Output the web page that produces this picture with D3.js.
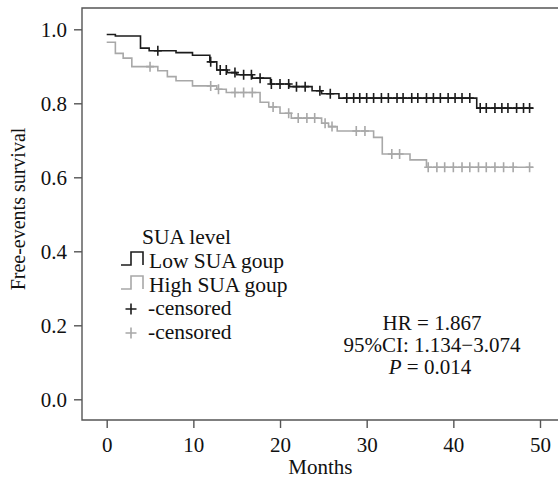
<!DOCTYPE html>
<html>
<head>
<meta charset="utf-8">
<script src="https://cdn.jsdelivr.net/npm/d3@7"></script>
<style>
html,body{margin:0;padding:0;background:#fff;}
svg{display:block;}
text{font-family:"Liberation Serif","Times New Roman",serif;fill:#111;}
</style>
</head>
<body>
<svg id="chart" width="558" height="479"></svg>
<script>
// ---- data ----
const xTicks = [0, 10, 20, 30, 40, 50];
const yTicks = [0.0, 0.2, 0.4, 0.6, 0.8, 1.0];
const endTime = 49.2;

const lowTimes = [0, 1.0, 3.9, 4.9, 8.0, 9.9, 11.9, 12.7, 13.9, 15.0, 16.8, 18.9, 21.1, 23.7, 24.8, 26.8, 42.7];
const lowSurv  = [0.986, 0.982, 0.949, 0.942, 0.937, 0.930, 0.912, 0.890, 0.883, 0.877, 0.868, 0.852, 0.845, 0.834, 0.826, 0.814, 0.787];
const lowCensor = [5.9, 12.0, 13.1, 13.8, 14.8, 15.8, 16.7, 17.7, 19.0, 20.0, 21.0, 21.9, 22.9, 24.6, 25.8,
  27.7, 28.5, 29.2, 30.0, 30.8, 31.7, 32.5, 33.5, 34.2, 35.2, 35.9, 36.9, 37.7, 38.5, 39.4, 40.2, 41.0, 41.9,
  43.1, 43.8, 44.8, 45.6, 46.3, 47.3, 48.1, 48.8];

const highTimes = [0, 1.0, 1.9, 2.9, 5.9, 7.0, 8.0, 9.9, 12.7, 13.8, 17.7, 18.7, 20.0, 21.3, 24.8, 25.6, 26.6, 30.8, 31.8, 35.0, 36.9];
const highSurv  = [0.965, 0.935, 0.922, 0.899, 0.888, 0.872, 0.861, 0.847, 0.838, 0.829, 0.803, 0.790, 0.773, 0.760, 0.746, 0.737, 0.725, 0.708, 0.663, 0.647, 0.627];
const highCensor = [5.0, 12.0, 12.9, 14.8, 15.8, 16.8, 19.2, 21.0, 22.1, 23.1, 24.0, 25.2, 26.0, 28.8, 29.8,
  32.9, 33.8, 37.1, 38.1, 39.0, 40.0, 41.0, 41.9, 42.9, 43.8, 44.8, 45.8, 46.9, 48.8];

const legendTitle = "SUA level";
const legendLabels = ["Low SUA goup", "High SUA goup", "-censored", "-censored"];
const statLines = ["HR = 1.867", "95%CI: 1.134\u22123.074"];

// ---- layout ----
const svg = d3.select("#chart");
const colLow = "#1c1c1c", colHigh = "#a8a8a8", frameCol = "#555";
const x = d3.scaleLinear().domain([0, 50]).range([106.7, 540]);
const y = d3.scaleLinear().domain([0, 1]).range([399.3, 29.3]);
const frame = {left: 82, top: 8, bottom: 420, right: 562};
const fs = "21px";

// frame
svg.append("path")
  .attr("d", `M${frame.right},${frame.top}H${frame.left}V${frame.bottom}H${frame.right}`)
  .attr("fill", "none").attr("stroke", frameCol).attr("stroke-width", 1.4);

// axes
const yAxis = d3.axisLeft(y).tickValues(yTicks).tickFormat(d3.format(".1f")).tickSize(8).tickPadding(7);
const gy = svg.append("g").attr("transform", `translate(${frame.left},0)`).call(yAxis);
const xAxis = d3.axisBottom(x).tickValues(xTicks).tickFormat(d3.format("d")).tickSize(8).tickPadding(8);
const gx = svg.append("g").attr("transform", `translate(0,${frame.bottom})`).call(xAxis);
[gx, gy].forEach(g => {
  g.select(".domain").remove();
  g.selectAll(".tick line").attr("stroke", frameCol).attr("stroke-width", 1.4);
  g.selectAll(".tick text").style("font-family", '"Liberation Serif",serif').style("font-size", fs).attr("fill", "#111");
});
gx.selectAll(".tick text").attr("dy", "0.75em");

svg.append("text").attr("x", (x(0) + x(50)) / 2 - 3).attr("y", 474).attr("text-anchor", "middle")
  .style("font-size", fs).text("Months");
svg.append("text").attr("transform", "translate(25,209) rotate(-90)").attr("text-anchor", "middle")
  .style("font-size", "20px").text("Free-events survival");

// curves
function stepPts(times, surv) {
  const pts = times.map((t, i) => [t, surv[i]]);
  pts.push([endTime, surv[surv.length - 1]]);
  return pts;
}
function survAt(times, surv, t) {
  const i = d3.bisectRight(times, t) - 1;
  return surv[Math.max(0, i)];
}
const line = d3.line().x(d => x(d[0])).y(d => y(d[1])).curve(d3.curveStepAfter);

const groups = [
  {times: highTimes, surv: highSurv, cens: highCensor, col: colHigh},
  {times: lowTimes, surv: lowSurv, cens: lowCensor, col: colLow}
];
groups.forEach(gr => {
  svg.append("path").attr("d", line(stepPts(gr.times, gr.surv)))
    .attr("fill", "none").attr("stroke", gr.col).attr("stroke-width", 1.6);
  svg.append("g").selectAll("path").data(gr.cens).join("path")
    .attr("d", t => {
      const cx = x(t), cy = y(survAt(gr.times, gr.surv, t));
      return `M${cx - 4},${cy}H${cx + 4}M${cx},${cy - 5}V${cy + 5}`;
    })
    .attr("stroke", gr.col).attr("stroke-width", 1.6).attr("fill", "none");
});

// legend
const lg = svg.append("g");
lg.append("text").attr("x", 142).attr("y", 244).style("font-size", "21.5px").text(legendTitle);
const legendY = [268, 292, 315, 339];
const legendCols = [colLow, colHigh, colLow, colHigh];
legendLabels.forEach((lab, i) => {
  lg.append("text").attr("x", i < 2 ? 149 : 148).attr("y", legendY[i]).style("font-size", "21.5px").text(lab);
  const by = legendY[i];
  if (i < 2) {
    lg.append("path").attr("d", `M121,${by - 3}H131V${by - 16}H143V${by - 3}`)
      .attr("fill", "none").attr("stroke", legendCols[i]).attr("stroke-width", 1.6);
  } else {
    const cx = 131, cy = by - 6;
    lg.append("path").attr("d", `M${cx - 5.5},${cy}H${cx + 5.5}M${cx},${cy - 5.5}V${cy + 5.5}`)
      .attr("stroke", legendCols[i]).attr("stroke-width", 1.6);
  }
});

// stats
const sx = 432;
svg.append("text").attr("x", sx).attr("y", 330).attr("text-anchor", "middle").style("font-size", fs).text(statLines[0]);
svg.append("text").attr("x", sx).attr("y", 352).attr("text-anchor", "middle").style("font-size", fs).text(statLines[1]);
const pt = svg.append("text").attr("x", sx - 2).attr("y", 374).attr("text-anchor", "middle").style("font-size", fs);
pt.append("tspan").style("font-style", "italic").text("P");
pt.append("tspan").text(" = 0.014");
</script>
</body>
</html>
